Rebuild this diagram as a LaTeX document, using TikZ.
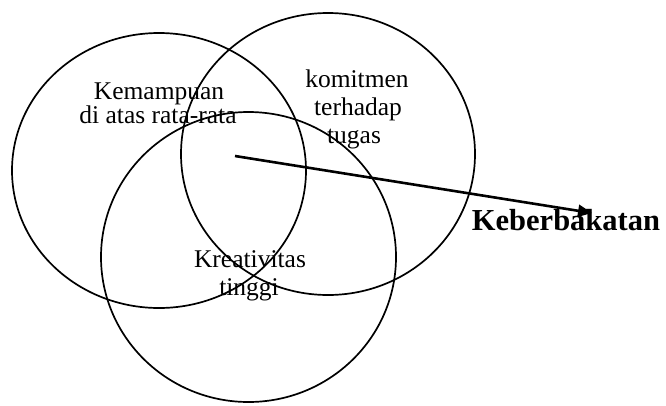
\documentclass[tikz,border=0pt]{standalone}
\usepackage{fontspec}
\setmainfont{Liberation Serif}
\usetikzlibrary{arrows.meta}
\begin{document}
\begin{tikzpicture}[x=1pt,y=-1pt,
  ring/.style={draw=black,line width=1.7pt},
  lbl/.style={font=\fontsize{25.5}{28}\selectfont,inner sep=0pt,anchor=base},
  big/.style={font=\fontsize{30.5}{34}\selectfont\bfseries,inner sep=0pt,anchor=base},
  arr/.style={line width=2.6pt,-{Triangle[length=14pt,width=12pt]}}]
\useasboundingbox (0,0) rectangle (666,405);
% circles
\draw[ring] (159,170.5) ellipse [x radius=147, y radius=137.5];
\draw[ring] (328,154) ellipse [x radius=147, y radius=141];
\draw[ring] (248.5,257) ellipse [x radius=147.5, y radius=145];
% labels
\node[lbl] (k1) at (159,99) {Kemampuan};
\node[lbl] (k2) at (158,123) {di atas rata-rata};
\node[lbl] (c1) at (357,87) {komitmen};
\node[lbl] (c2) at (358,115) {terhadap};
\node[lbl] (c3) at (354,143) {tugas};
\node[lbl] (r1) at (250,267) {Kreativitas};
\node[lbl] (r2) at (249,295) {tinggi};
\node[big] (kb) at (566,230) {Keberbakatan};
% arrow
\coordinate (s) at (235,156);
\coordinate (t) at (592,213);
\draw[arr] (s) -- (t);
\end{tikzpicture}
\end{document}
